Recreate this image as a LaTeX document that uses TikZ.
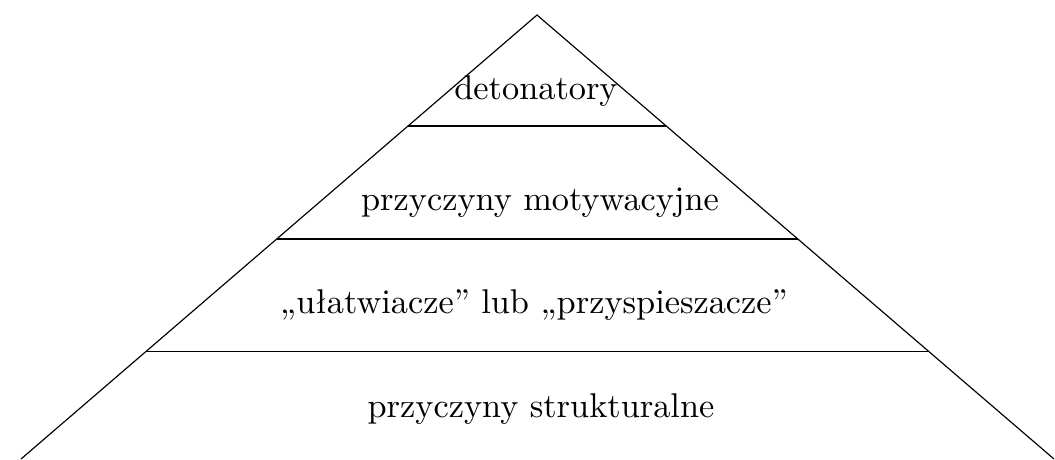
\documentclass[tikz,border=0pt]{standalone}
\usetikzlibrary{calc}
\tikzset{
  edge/.style={draw=black, line width=0.35pt},
  level/.style={anchor=base, inner sep=0pt, font=\fontsize{10.3}{12}\selectfont}
}
\begin{document}
\begin{tikzpicture}[x=0.3pt,y=-0.3pt]
\useasboundingbox (0,0) rectangle (1055,459);
\coordinate (A) at (537,15);
\coordinate (L) at (21,459);
\coordinate (R) at (1054,459);
\draw[edge] (L) -- (A) -- (R);
\coordinate (l1) at ($(A)!0.25!(L)$);
\coordinate (r1) at ($(A)!0.25!(R)$);
\coordinate (l2) at ($(A)!0.5045!(L)$);
\coordinate (r2) at ($(A)!0.5045!(R)$);
\coordinate (l3) at ($(A)!0.757!(L)$);
\coordinate (r3) at ($(A)!0.757!(R)$);
\draw[edge] (l1) -- (r1);
\draw[edge] (l2) -- (r2);
\draw[edge] (l3) -- (r3);
\node[level] (t1) at (536,99) {detonatory};
\node[level] (t2) at (540,210) {przyczyny motywacyjne};
\node[level] (t3) at (534,313) {„ułatwiacze” lub „przyspieszacze”};
\node[level] (t4) at (541,417) {przyczyny strukturalne};
\end{tikzpicture}
\end{document}
